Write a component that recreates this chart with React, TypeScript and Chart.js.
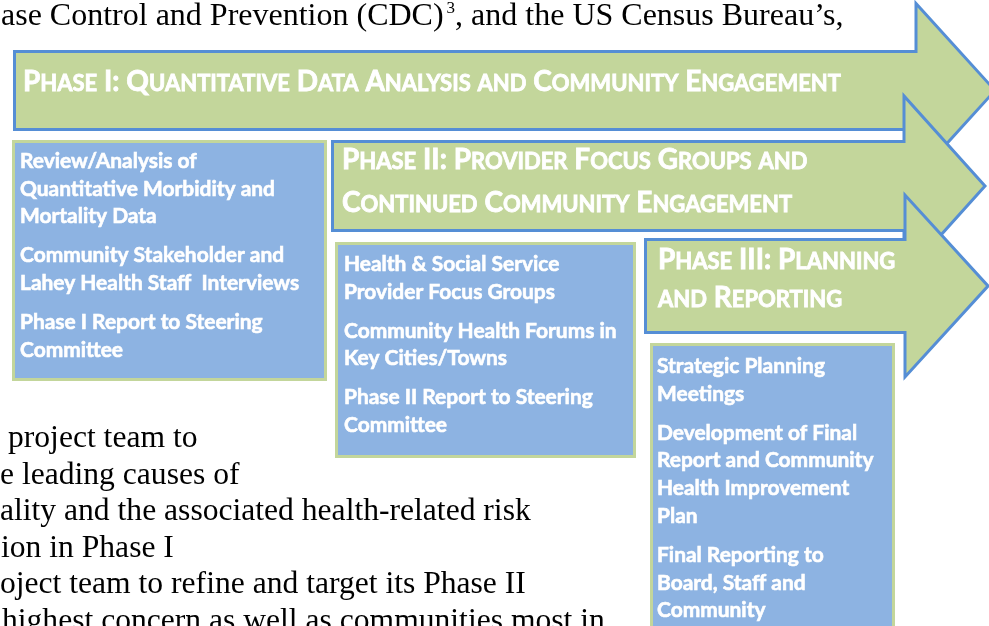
import React, { useEffect, useRef } from "react";
import { Chart, registerables } from "chart.js";

Chart.register(...registerables);

// ---------- content ----------
const topTextStart = "ase Control and Prevention (CDC)";
const topTextSup = "3";
const topTextEnd = ", and the US Census Bureau\u2019s,";

const bodyLines = [
  "project team to",
  "e leading causes of",
  "ality and the associated health-related risk",
  "ion in Phase I",
  "oject team to refine and target its Phase II",
  "highest concern as well as communities most in",
];

const phaseTitles = [
  ["Phase I: Quantitative Data Analysis and Community Engagement"],
  ["Phase II: Provider Focus Groups and", "Continued Community Engagement"],
  ["Phase III: Planning", "and Reporting"],
];

const phase1Items = [
  ["Review/Analysis of", "Quantitative Morbidity and", "Mortality Data"],
  ["Community Stakeholder and", "Lahey Health Staff  Interviews"],
  ["Phase I Report to Steering", "Committee"],
];
const phase2Items = [
  ["Health & Social Service", "Provider Focus Groups"],
  ["Community Health Forums in", "Key Cities/Towns"],
  ["Phase II Report to Steering", "Committee"],
];
const phase3Items = [
  ["Strategic Planning", "Meetings"],
  ["Development of Final", "Report and Community", "Health Improvement", "Plan"],
  ["Final Reporting to", "Board, Staff and", "Community"],
];
const phaseItems = [phase1Items, phase2Items, phase3Items];

// ---------- layout (diagram geometry in axis units) ----------
const W = 989;
const H = 626;
const arrowGeom = [
  { left: 14.5, top: 51.5, bottom: 129.5, neck: 916, half: 87, tip: 995, titleX: 23, titleY: [91] },
  { left: 332.5, top: 141.5, bottom: 230.5, neck: 904, half: 90, tip: 985, titleX: 342, titleY: [169, 212] },
  { left: 645.5, top: 239.5, bottom: 332.5, neck: 905, half: 91, tip: 988, titleX: 658, titleY: [269, 307] },
];
const boxGeom = [
  { x0: 13.5, y0: 141.5, x1: 325.5, y1: 379.5, textX: 20, firstBase: 168 },
  { x0: 336.5, y0: 243.5, x1: 634.5, y1: 456.5, textX: 344, firstBase: 271 },
  { x0: 651.5, y0: 344.5, x1: 893.5, y1: 680, textX: 657, firstBase: 373 },
];
const bodyGeom = { x: [8, 0, 0, 1, 0, 2], firstBase: 447, lineH: 36.5 };

const COLORS = {
  arrowFill: "#c3d69b",
  arrowStroke: "#558ed5",
  boxFill: "#8db3e2",
  boxStroke: "#c3d69b",
  text: "#ffffff",
  body: "#000000",
};

const SANS = "Lato, 'Open Sans', sans-serif";
const SERIF = "'Liberation Serif', 'Times New Roman', serif";
const TITLE_BIG = 28;
const TITLE_SMALL = 22;
const ITEM_SIZE = 21;
const LINE_H = 27.7;
const PARA_GAP = 11.3;

function smallCapsRuns(text: string) {
  const runs: { t: string; small: boolean }[] = [];
  for (const ch of text) {
    const small = ch !== ch.toUpperCase();
    const last = runs[runs.length - 1];
    if (last && last.small === small) last.t += ch.toUpperCase();
    else runs.push({ t: ch.toUpperCase(), small });
  }
  return runs;
}

function smallCapsWidth(ctx: CanvasRenderingContext2D, text: string) {
  let w = 0;
  for (const r of smallCapsRuns(text)) {
    ctx.font = `bold ${r.small ? TITLE_SMALL : TITLE_BIG}px ${SANS}`;
    w += ctx.measureText(r.t).width;
  }
  return w;
}

function heavyText(ctx: CanvasRenderingContext2D, t: string, x: number, y: number, lw: number) {
  ctx.fillText(t, x, y);
  ctx.lineWidth = lw;
  ctx.strokeText(t, x, y);
}

function drawSmallCaps(ctx: CanvasRenderingContext2D, text: string, x: number, y: number, sx: number) {
  ctx.save();
  ctx.translate(x, y);
  ctx.scale(sx, 1);
  let cx = 0;
  for (const r of smallCapsRuns(text)) {
    ctx.font = `bold ${r.small ? TITLE_SMALL : TITLE_BIG}px ${SANS}`;
    heavyText(ctx, r.t, cx, 0, 0.8);
    cx += ctx.measureText(r.t).width;
  }
  ctx.restore();
}

const diagramPlugin = {
  id: "phaseDiagram",
  afterDatasetsDraw(chart: any) {
    const ctx: CanvasRenderingContext2D = chart.ctx;
    const xs = chart.scales.x;
    const ys = chart.scales.y;
    const px = (v: number) => xs.getPixelForValue(v);
    const py = (v: number) => ys.getPixelForValue(v);

    ctx.save();
    ctx.textBaseline = "alphabetic";
    ctx.textAlign = "left";

    // background document text
    ctx.fillStyle = COLORS.body;
    ctx.font = `32px ${SERIF}`;
    ctx.fillText(topTextStart, px(1), py(25));
    let tx = px(1) + ctx.measureText(topTextStart).width + 3;
    ctx.font = `17px ${SERIF}`;
    ctx.fillText(topTextSup, tx, py(13));
    tx += ctx.measureText(topTextSup).width;
    ctx.font = `32px ${SERIF}`;
    ctx.fillText(topTextEnd, tx, py(25));
    ctx.font = `31.6px ${SERIF}`;
    bodyLines.forEach((line, i) => {
      ctx.fillText(line, px(bodyGeom.x[i]), py(bodyGeom.firstBase + i * bodyGeom.lineH));
    });

    // scale factors to approximate the narrow Calibri look
    const sxTitle = 818 / smallCapsWidth(ctx, phaseTitles[0][0]);
    ctx.font = `bold ${ITEM_SIZE}px ${SANS}`;
    const sxItem = 255 / ctx.measureText(phase1Items[0][1]).width;

    const drawBox = (i: number) => {
      const b = boxGeom[i];
      ctx.beginPath();
      ctx.rect(px(b.x0), py(b.y0), px(b.x1) - px(b.x0), py(b.y1) - py(b.y0));
      ctx.fillStyle = COLORS.boxFill;
      ctx.fill();
      ctx.lineWidth = 3;
      ctx.strokeStyle = COLORS.boxStroke;
      ctx.stroke();
      ctx.fillStyle = COLORS.text;
      ctx.strokeStyle = COLORS.text;
      ctx.font = `bold ${ITEM_SIZE}px ${SANS}`;
      let yb = b.firstBase;
      phaseItems[i].forEach((para, pi) => {
        if (pi > 0) yb += PARA_GAP;
        para.forEach((line) => {
          ctx.save();
          ctx.translate(px(b.textX), py(yb));
          ctx.scale(sxItem, 1);
          heavyText(ctx, line, 0, 0, 0.6);
          ctx.restore();
          yb += LINE_H;
        });
      });
    };

    const drawArrow = (i: number) => {
      const a = arrowGeom[i];
      const c = (a.top + a.bottom) / 2;
      ctx.beginPath();
      ctx.moveTo(px(a.left), py(a.top));
      ctx.lineTo(px(a.neck), py(a.top));
      ctx.lineTo(px(a.neck), py(c - a.half));
      ctx.lineTo(px(a.tip), py(c));
      ctx.lineTo(px(a.neck), py(c + a.half));
      ctx.lineTo(px(a.neck), py(a.bottom));
      ctx.lineTo(px(a.left), py(a.bottom));
      ctx.closePath();
      ctx.fillStyle = COLORS.arrowFill;
      ctx.fill();
      ctx.lineWidth = 3;
      ctx.lineJoin = "miter";
      ctx.strokeStyle = COLORS.arrowStroke;
      ctx.stroke();
      ctx.fillStyle = COLORS.text;
      ctx.strokeStyle = COLORS.text;
      phaseTitles[i].forEach((line, li) => {
        drawSmallCaps(ctx, line, px(a.titleX), py(a.titleY[li]), sxTitle);
      });
    };

    drawArrow(0);
    drawArrow(1);
    drawArrow(2);
    drawBox(0);
    drawBox(1);
    drawBox(2);
    ctx.restore();
  },
};

export default function App() {
  const canvasRef = useRef<HTMLCanvasElement | null>(null);

  useEffect(() => {
    if (!canvasRef.current) return;
    const chart = new Chart(canvasRef.current, {
      type: "scatter",
      data: { datasets: [{ data: [], pointRadius: 0 }] },
      options: {
        responsive: false,
        animation: false,
        devicePixelRatio: 1,
        layout: { padding: 0 },
        scales: {
          x: { type: "linear", min: 0, max: W, display: false },
          y: { type: "linear", min: 0, max: H, reverse: true, display: false },
        },
        plugins: { legend: { display: false }, tooltip: { enabled: false } },
      },
      plugins: [diagramPlugin],
    });
    return () => chart.destroy();
  }, []);

  return (
    <div style={{ position: "fixed", left: 0, top: 0, width: W, height: H, background: "#fff" }}>
      <canvas ref={canvasRef} width={W} height={H} style={{ display: "block" }} />
    </div>
  );
}
